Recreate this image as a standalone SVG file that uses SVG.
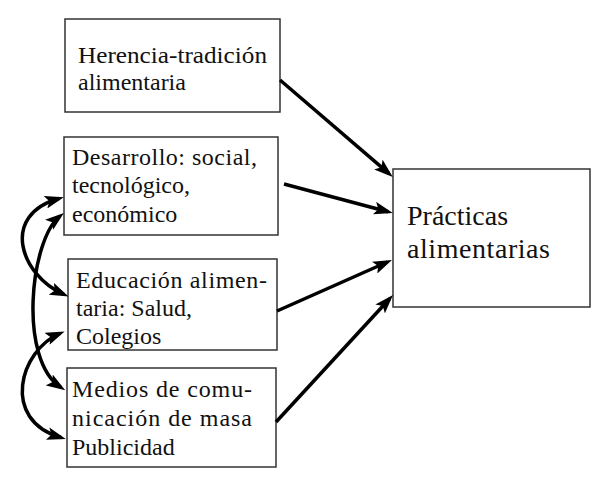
<svg xmlns="http://www.w3.org/2000/svg" width="614" height="480" viewBox="0 0 614 480">
<style>
.box{fill:#fff;stroke:#333;stroke-width:1.5}
.t{font-family:"Liberation Serif","Times New Roman",serif;font-size:24px;fill:#111}
.tb{font-family:"Liberation Serif","Times New Roman",serif;font-size:28px;fill:#111}
.c{fill:none;stroke:#000;stroke-width:3.5}
</style>
<defs>
<marker id="ah" viewBox="0 0 19 13" refX="14" refY="6.5" markerWidth="19" markerHeight="13" markerUnits="userSpaceOnUse" orient="auto-start-reverse">
<path d="M0,0 L19,6.5 L0,13 L4,6.5 z" fill="#000"/>
</marker>
</defs>
<rect width="614" height="480" fill="#fff"/>
<g id="herencia">
<rect class="box" x="65" y="19" width="215" height="93"/>
<text class="t" x="78" y="63" textLength="189" lengthAdjust="spacingAndGlyphs">Herencia-tradición</text>
<text class="t" x="78" y="90">alimentaria</text>
</g>
<g id="desarrollo">
<rect class="box" x="64" y="137" width="214" height="98"/>
<text class="t" x="72" y="165" textLength="185" lengthAdjust="spacing">Desarrollo: social,</text>
<text class="t" x="72" y="193">tecnológico,</text>
<text class="t" x="72" y="222">económico</text>
</g>
<g id="educacion">
<rect class="box" x="68" y="259" width="209" height="91"/>
<text class="t" x="76" y="288" textLength="191" lengthAdjust="spacing">Educación alimen-</text>
<text class="t" x="76" y="316">taria: Salud,</text>
<text class="t" x="76" y="344">Colegios</text>
</g>
<g id="medios">
<rect class="box" x="67" y="368" width="209" height="99"/>
<text class="t" x="72" y="397" textLength="180" lengthAdjust="spacing">Medios de comu-</text>
<text class="t" x="72" y="426" textLength="180" lengthAdjust="spacing">nicación de masa</text>
<text class="t" x="72" y="455">Publicidad</text>
</g>
<g id="practicas">
<rect class="box" x="393" y="169" width="197" height="138"/>
<text class="tb" x="407" y="225">Prácticas</text>
<text class="tb" x="407" y="258" textLength="143" lengthAdjust="spacing">alimentarias</text>
</g>
<g id="connectors">
<path class="c" d="M280,80 L389,173.7" marker-end="url(#ah)"/>
<path class="c" d="M284,184 L388,211.7" marker-end="url(#ah)"/>
<path class="c" d="M277,311 L387.4,262" marker-end="url(#ah)"/>
<path class="c" d="M276,422 L389.6,298.7" marker-end="url(#ah)"/>
<path class="c" d="M59,198.5 C0,215 20,275 64,294.5" marker-start="url(#ah)" marker-end="url(#ah)"/>
<path class="c" d="M60,216 C30,240 18,360 61,387.5" marker-start="url(#ah)" marker-end="url(#ah)"/>
<path class="c" d="M60,333.5 C20,350 0,420 61,437.5" marker-start="url(#ah)" marker-end="url(#ah)"/>
</g>
</svg>
